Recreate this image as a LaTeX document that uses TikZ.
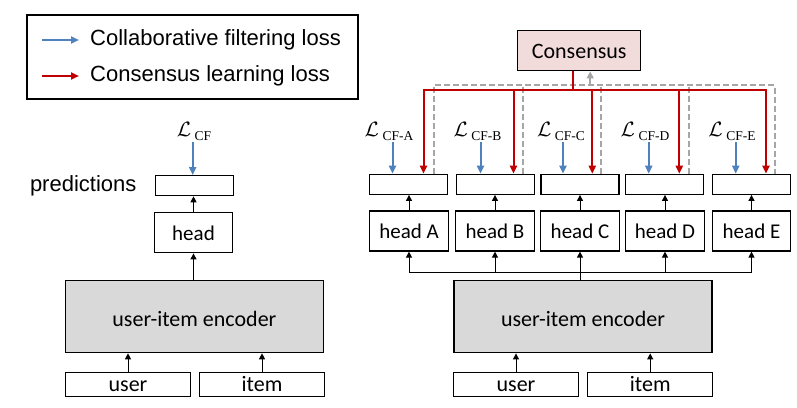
\documentclass[tikz,border=0pt]{standalone}
\usepackage{fontspec}
\setmainfont{Carlito}
\newfontfamily\arial{Liberation Sans}
\newfontfamily\lossfont{Liberation Serif}
\usetikzlibrary{positioning,arrows.meta}

\definecolor{cfblue}{HTML}{4F81BD}
\definecolor{clred}{HTML}{C00000}
\definecolor{fbgray}{HTML}{A6A6A6}
\definecolor{encgray}{HTML}{D9D9D9}
\definecolor{conspink}{HTML}{F2DCDB}

\newcommand{\lossname}[1]{$\mathcal{L}$\,\raisebox{-4pt}{\lossfont\fontsize{13.5}{14}\selectfont #1}}

\begin{document}
\begin{tikzpicture}[
  x=1pt, y=-1pt,
  font=\fontsize{22}{26}\selectfont,
  box/.style={rectangle, draw=black, line width=1.2pt, inner sep=0pt, fill=white,
              text height=14.6pt, text depth=0pt},
  pred/.style={box, minimum width=78pt, minimum height=20pt},
  hd/.style={box, minimum width=78.5pt, minimum height=40pt, font=\fontsize{21}{24}\selectfont},
  enc/.style={box, fill=encgray, minimum width=258pt, minimum height=72pt, text height=18.6pt},
  inp/.style={box, minimum width=125pt, minimum height=24pt},
  cons/.style={box, fill=conspink, minimum width=123pt, minimum height=40pt, text height=15pt},
  loss/.style={inner sep=2pt, font=\fontsize{22}{24}\selectfont},
  lgtxt/.style={inner sep=0pt, font=\arial\fontsize{22}{26}\selectfont},
  fw/.style={-{Triangle[length=6pt,width=6pt]}, line width=1pt},
  cf/.style={-{Triangle[length=8pt,width=7pt]}, draw=cfblue, line width=2pt},
  cl/.style={-{Triangle[length=8pt,width=7pt]}, draw=clred, line width=2pt},
  fb/.style={draw=fbgray, line width=2pt, dash pattern=on 6pt off 3pt}
]
\useasboundingbox (0,0) rectangle (797,407);

% legend
\node[draw=black, line width=1.2pt, minimum width=331pt, minimum height=84pt] (legend) at (192.5,57) {};
\coordinate (cfa) at (42,40);
\coordinate (cfb) at (79,40);
\coordinate (cla) at (42,76);
\coordinate (clb) at (79,76);
\node[lgtxt, anchor=west] (cftxt) at (90,40) {Collaborative filtering loss};
\node[lgtxt, anchor=west] (cltxt) at (90,76) {Consensus learning loss};
\draw[cf] (cfa) -- (cfb);
\draw[cl] (cla) -- (clb);

% single head model
\node[pred] (pred0) at (194.2,185.7) {};
\node[hd]   (head0) at (193.5,232.8) {head};
\node[enc]  (enc0)  at (194.4,316.7) {user-item encoder};
\node[inp]  (user0) at (128,384.5) {user};
\node[inp]  (item0) at (262,384.5) {item};
\node[lgtxt, left=18pt of pred0] (predtxt) {predictions};
\node[loss] (loss0) at (194,131) {\lossname{CF}};

\draw[fw] (user0) -- (user0 |- enc0.south);
\draw[fw] (item0) -- (item0 |- enc0.south);
\draw[fw] (enc0.north -| head0) -- (head0);
\draw[fw] (head0) -- (pred0.south -| head0);
\draw[cf] ([xshift=-1.5]pred0.north |- loss0.south) -- ([xshift=-1.5]pred0.north);

% multi head model with consensus
\node[cons] (cons) at (579.2,50.8) {Consensus};
\node[pred] (pA) at (408.5,184.3) {};
\node[pred] (pB) at (495.5,184.3) {};
\node[pred] (pC) at (580,184.3) {};
\node[pred] (pD) at (664.7,184.3) {};
\node[pred] (pE) at (751.7,184.3) {};
\node[hd] (hA) at (409,231) {head A};
\node[hd] (hB) at (495,231) {head B};
\node[hd] (hC) at (580,231) {head C};
\node[hd] (hD) at (665,231) {head D};
\node[hd] (hE) at (751.5,231) {head E};
\node[enc] (enc1) at (583,316.8) {user-item encoder};
\node[inp] (user1) at (516,384.5) {user};
\node[inp] (item1) at (650.2,384.5) {item};

\node[loss] (lA) at (389,131) {\lossname{CF-A}};
\node[loss] (lB) at (477.5,131) {\lossname{CF-B}};
\node[loss] (lC) at (561,131) {\lossname{CF-C}};
\node[loss] (lD) at (645,131) {\lossname{CF-D}};
\node[loss] (lE) at (732,131) {\lossname{CF-E}};

\coordinate (bus) at (0,272);
\coordinate (rbar) at (0,90);
\coordinate (gbar) at (0,85.3);

\draw[fw] (user1) -- (user1 |- enc1.south);
\draw[fw] (item1) -- (item1 |- enc1.south);
\draw[fw] (enc1.north -| hC) -- (hC);
\draw[fw, {Triangle[length=6pt,width=6pt]}-{Triangle[length=6pt,width=6pt]}] (hA) |- (bus -| hE) -- (hE);
\draw[fw] (bus -| hB) -- (hB);
\draw[fw] (bus -| hD) -- (hD);
\draw[fw] (hA) -- (pA.south -| hA);
\draw[fw] (hB) -- (pB.south -| hB);
\draw[fw] (hC) -- (pC.south -| hC);
\draw[fw] (hD) -- (pD.south -| hD);
\draw[fw] (hE) -- (pE.south -| hE);

% blue losses
\draw[cf] ([xshift=-16]pA.north |- lA.south) -- ([xshift=-16]pA.north);
\draw[cf] ([xshift=-15]pB.north |- lB.south) -- ([xshift=-15]pB.north);
\draw[cf] ([xshift=-17]pC.north |- lC.south) -- ([xshift=-17]pC.north);
\draw[cf] ([xshift=-16]pD.north |- lD.south) -- ([xshift=-16]pD.north);
\draw[cf] ([xshift=-16]pE.north |- lE.south) -- ([xshift=-16]pE.north);

% gray feedback to consensus
\draw[fb] ([xshift=25]pA.north) |- ([xshift=23]pE.north |- gbar) -- ([xshift=23]pE.north);
\draw[fb] ([xshift=27]pB.north) -- ([xshift=27]pB.north |- gbar);
\draw[fb] ([xshift=21]pC.north) -- ([xshift=21]pC.north |- gbar);
\draw[fb] ([xshift=24]pD.north) -- ([xshift=24]pD.north |- gbar);
\draw[fb, dash pattern=, -{Triangle[length=7pt,width=7pt]}, line width=1.5pt] ([xshift=11]cons.south |- gbar) -- ([xshift=11]cons.south);

% red consensus losses
\draw[draw=clred, line width=2pt] ([xshift=-6]cons.south) -- ([xshift=-6]cons.south |- rbar);
\draw[cl, {Triangle[length=8pt,width=7pt]}-{Triangle[length=8pt,width=7pt]}] ([xshift=15]pA.north) |- ([xshift=14.3]pE.north |- rbar) -- ([xshift=14.3]pE.north);
\draw[cl] ([xshift=18]pB.north |- rbar) -- ([xshift=18]pB.north);
\draw[cl] ([xshift=12.3]pC.north |- rbar) -- ([xshift=12.3]pC.north);
\draw[cl] ([xshift=14.6]pD.north |- rbar) -- ([xshift=14.6]pD.north);
\end{tikzpicture}
\end{document}
